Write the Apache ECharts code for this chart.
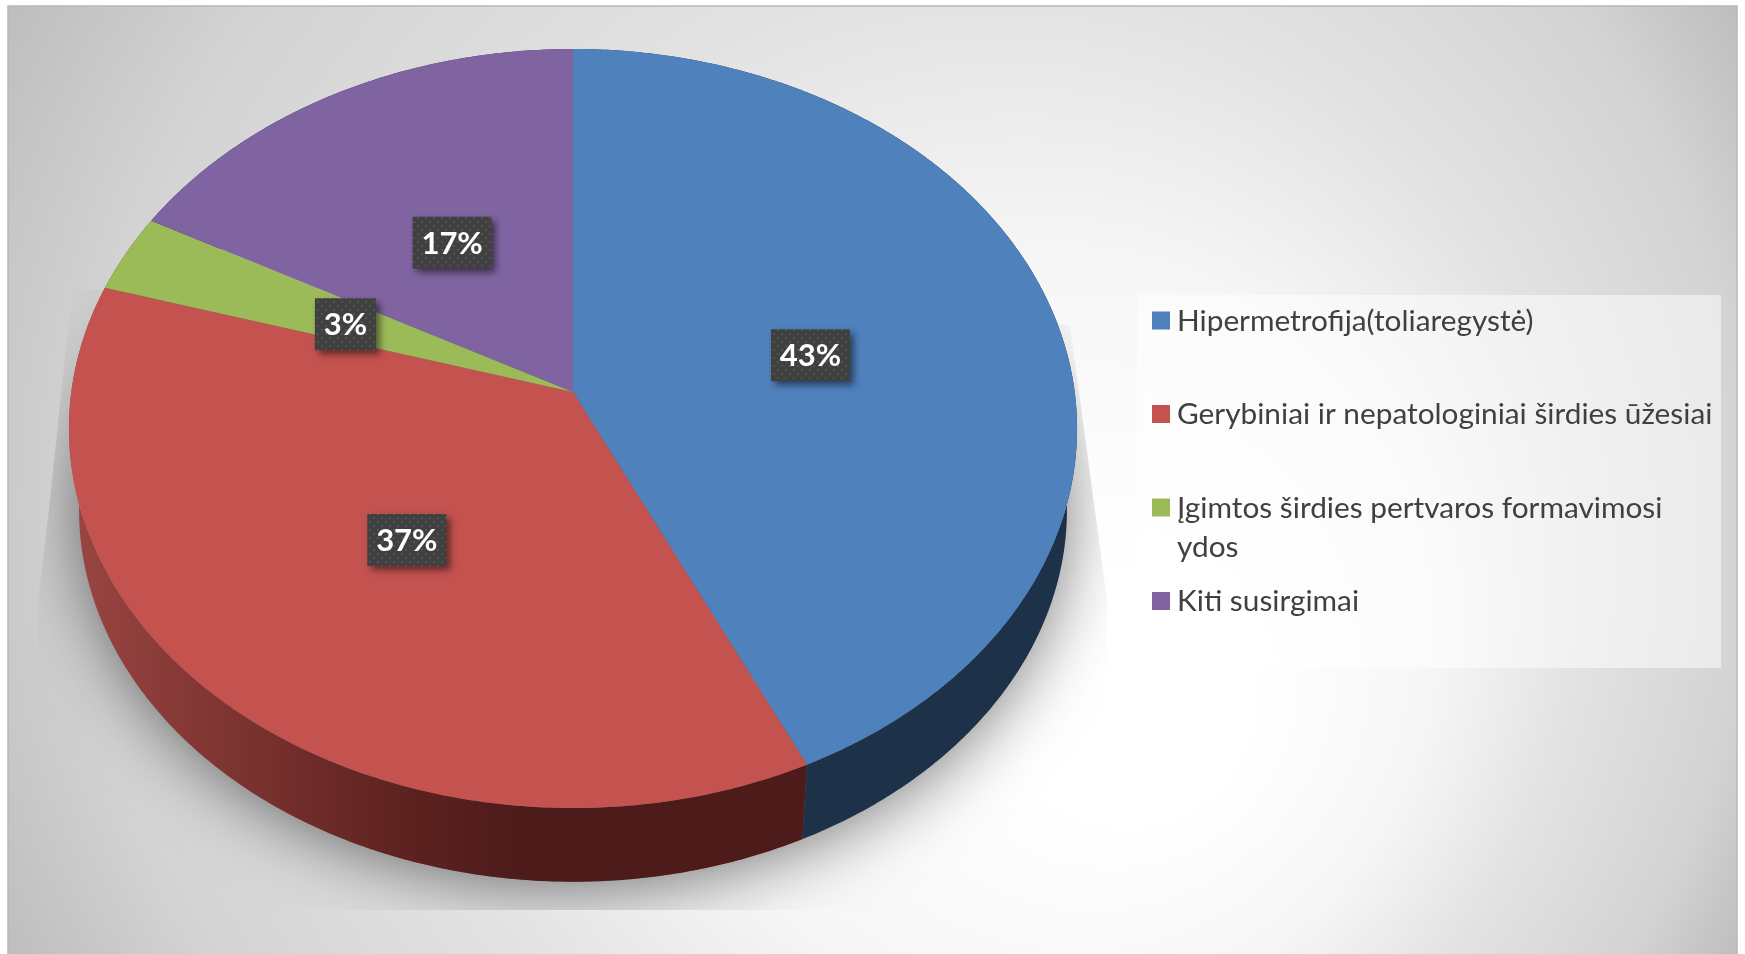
<!DOCTYPE html>
<html>
<head>
<meta charset="utf-8">
<title>Pie</title>
<script src="https://cdn.jsdelivr.net/npm/echarts@6/dist/echarts.min.js"></script>
<style>
html, body { margin: 0; padding: 0; background: #fff; }
#main { width: 1745px; height: 954px; }
</style>
</head>
<body>
<div id="main"></div>
<script>
// values, labels round them to 43 / 37 / 3 / 17
var categories = ['Hipermetrofija(toliaregystė)', 'Gerybiniai ir nepatologiniai širdies ūžesiai', 'Įgimtos širdies pertvaros formavimosi\nydos', 'Kiti susirgimai'];
var values = [43.0, 36.6, 3.3, 17.1];
var topColors = ['#4f81bd', '#c4524f', '#9bbb59', '#8064a2'];
var total = values.reduce(function (a, b) { return a + b; }, 0);

// perspective of the disc
var cx = 573, cyTop = 392, cyBottom = 474;
var ax = 501.7, by = 376, k = 0.0962, depthScale = 0.98;

function project(theta, r, bottom) {
	var u = Math.sin(theta) * r, v = Math.cos(theta) * r, w = 1 + k * v;
	var s = bottom ? depthScale : 1;
	return [cx + ax * s * u / w, (bottom ? cyBottom : cyTop) - by * s * v / w];
}

function arc(a0, a1, bottom) {
	var pts = [], n = Math.max(2, Math.ceil((a1 - a0) * 120));
	for (var i = 0; i <= n; i++) {
		pts.push(project(a0 + (a1 - a0) * i / n, 1, bottom));
	}
	return pts;
}

function angles(idx) {
	var before = 0;
	for (var i = 0; i < idx; i++) before += values[i];
	return [before / total * Math.PI * 2, (before + values[idx]) / total * Math.PI * 2];
}

var sideFill = [
	'#1d3149',
	new echarts.graphic.LinearGradient(0, 0, 1, 0, [
		{ offset: 0, color: '#9b4542' },
		{ offset: 0.45, color: '#5e2220' },
		{ offset: 0.62, color: '#4c1b1a' },
		{ offset: 1, color: '#4c1b1a' }
	]),
	'#4f6230',
	'#40324f'
];

// dotted fill of the value boxes
function dotPattern() {
	var c = document.createElement('canvas');
	c.width = 8; c.height = 8;
	var g = c.getContext('2d');
	g.fillStyle = '#404040';
	g.fillRect(0, 0, 8, 8);
	g.fillStyle = '#525252';
	g.fillRect(1, 1, 2, 2);
	g.fillRect(5, 5, 2, 2);
	return { image: c, repeat: 'repeat' };
}
var boxFill = dotPattern();

// backdrop: off centre white spot, grey in all four corners
function backdrop() {
	var c = document.createElement('canvas');
	c.width = 1745; c.height = 954;
	var g = c.getContext('2d');
	var grad = g.createRadialGradient(1130, 700, 120, 872, 480, 990);
	grad.addColorStop(0, '#ffffff');
	grad.addColorStop(0.3, '#f6f6f6');
	grad.addColorStop(0.55, '#e2e2e2');
	grad.addColorStop(0.82, '#d3d3d3');
	grad.addColorStop(1, '#bdbdbd');
	g.fillStyle = grad;
	g.fillRect(0, 0, 1745, 954);
	return { image: c, repeat: 'no-repeat' };
}

var seriesData = values.map(function (v, i) { return { name: categories[i], value: v }; });

function renderShadow(params) {
	var ring = arc(0, Math.PI * 2, true).map(function (p) {
		return [cx + (p[0] - cx) * 0.99, p[1]];
	});
	return {
		type: 'polygon',
		shape: { points: ring },
		style: { fill: '#666', shadowBlur: 75, shadowColor: 'rgba(0,0,0,0.6)' },
		clipPath: {
			type: 'polygon',
			shape: { points: [[72, 289], [50, 500], [38, 600], [38, 910], [1107, 910], [1107, 600], [1070, 325]] }
		},
		silent: true
	};
}

function renderSide(params, api) {
	var i = params.dataIndex, a = angles(i);
	var pts = arc(a[0], a[1], false).concat(arc(a[0], a[1], true).reverse());
	return { type: 'polygon', shape: { points: pts }, style: { fill: sideFill[i] } };
}

function renderTop(params, api) {
	var i = params.dataIndex, a = angles(i);
	var pts = [project(0, 0, false)].concat(arc(a[0], a[1], false));
	return { type: 'polygon', shape: { points: pts }, style: { fill: topColors[i] } };
}

function renderLabel(params, api) {
	var i = params.dataIndex, a = angles(i);
	var p = project((a[0] + a[1]) / 2, i === 2 ? 0.5 : 0.49, false);
	var txt = Math.round(api.value(0) / total * 100) + '%';
	var w = txt.length === 2 ? 61 : 79, h = 52;
	var y = p[1] + 3;
	return {
		type: 'group',
		children: [{
			type: 'rect',
			shape: { x: p[0] - w / 2, y: y - h / 2, width: w, height: h },
			style: { fill: boxFill, shadowBlur: 7, shadowOffsetX: 4, shadowOffsetY: 4, shadowColor: 'rgba(0,0,0,0.5)' }
		}, {
			type: 'text',
			style: {
				x: p[0], y: y + 1, text: txt, fill: '#fff',
				font: 'bold 31px Lato', align: 'center', verticalAlign: 'middle'
			}
		}]
	};
}

var legendX = 1152, legendY = 320.5, legendStep = 93.5;

function renderLegend(params, api) {
	var i = params.dataIndex;
	var y = legendY + legendStep * i;
	return {
		type: 'group',
		children: [{
			type: 'rect',
			shape: { x: legendX, y: y - 9, width: 18, height: 18 },
			style: { fill: topColors[i] }
		}, {
			type: 'text',
			style: {
				x: legendX + 25, y: y - 19, text: categories[i], fill: '#404040',
				font: '29.8px Lato', lineHeight: 39, verticalAlign: 'top'
			}
		}]
	};
}

var chart = echarts.init(document.getElementById('main'));
chart.setOption({
	backgroundColor: '#fff',
	animation: false,
	graphic: [{
		type: 'rect',
		z: -10,
		shape: { x: 8, y: 6, width: 1729, height: 960 },
		style: { fill: backdrop(), stroke: '#b8b8b8', lineWidth: 1.5 }
	}, {
		type: 'rect',
		z: -9,
		shape: { x: 1137, y: 295, width: 584, height: 373 },
		style: { fill: 'rgba(255,255,255,0.5)' }
	}],
	series: [
		{ type: 'custom', coordinateSystem: 'none', renderItem: renderShadow, data: [seriesData[0]], z: 1, silent: true },
		{ type: 'custom', coordinateSystem: 'none', renderItem: renderSide, data: seriesData, z: 2 },
		{ type: 'custom', coordinateSystem: 'none', renderItem: renderTop, data: seriesData, z: 3 },
		{ type: 'custom', coordinateSystem: 'none', renderItem: renderLabel, data: seriesData, z: 4 },
		{ type: 'custom', coordinateSystem: 'none', renderItem: renderLegend, data: seriesData, z: 5 }
	]
});
</script>
</body>
</html>
